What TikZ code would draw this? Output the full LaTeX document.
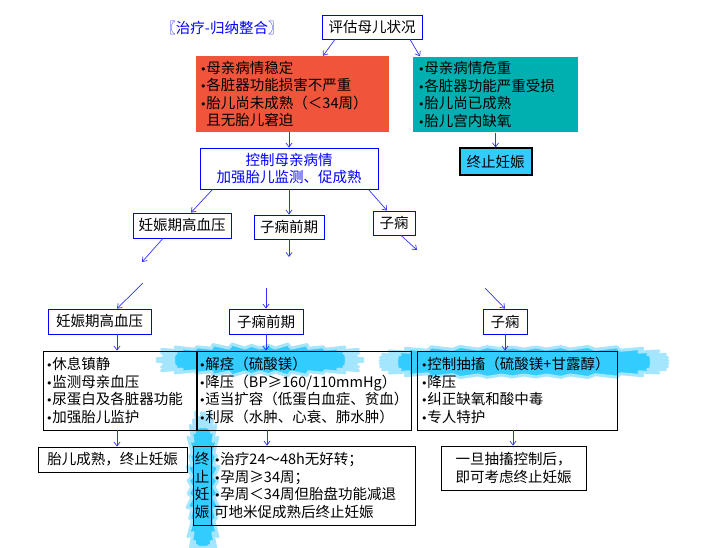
\documentclass[tikz,border=0pt]{standalone}
\usepackage{fontspec}
\setmainfont{Noto Sans CJK SC}
\newfontfamily\marcafont{DejaVu Sans}
\newcommand{\marca}{{\marcafont\fontsize{11pt}{17.5pt}\selectfont •}}
\usepackage{tikz}
\usetikzlibrary{positioning,arrows.meta}

\definecolor{caixaverm}{RGB}{240,85,60}
\definecolor{caixaverde}{RGB}{0,176,176}
\definecolor{azulclaro}{RGB}{51,204,255}
\definecolor{azulbrilho}{RGB}{165,230,255}
\definecolor{azulseta}{RGB}{51,51,255}

\begin{document}
\begin{tikzpicture}[x=1pt,y=-1pt,
    declare function={raio(\x)=pow(cos(\x)*cos(\x)*cos(\x)*cos(\x)+sin(\x)*sin(\x)*sin(\x)*sin(\x),-0.25);
                      pico(\x,\k)=mod(round(\x/5),2)*(0.45+0.55*abs(sin(\k*\x)));},
    txt/.style={font=\fontsize{14.5pt}{17.5pt}\selectfont},
    caixa/.style={txt,draw=blue,line width=0.8pt,inner sep=0pt,align=center},
    lista/.style={txt,draw=black,line width=0.8pt,align=left,minimum height=79pt},
    seta/.style={draw=azulseta,line width=0.7pt,-{Straight Barb[length=4pt,width=6pt]}},
    explosao/.style={fill=azulclaro,draw=azulbrilho,line width=3pt,line join=round}]
    \useasboundingbox (0,0) rectangle (704,548);

    % Brilhos
    \filldraw[explosao] plot[variable=\t, samples=73, domain=0:360]
        ({260+(86+18*pico(\t,13))*raio(\t)*cos(\t)}, {360+(12+4*pico(\t,13))*raio(\t)*sin(\t)}) -- cycle;
    \filldraw[explosao] plot[variable=\t, samples=73, domain=0:360]
        ({524+(127+17*pico(\t,17))*raio(\t)*cos(\t)}, {362+(13+4*pico(\t,17))*raio(\t)*sin(\t)}) -- cycle;
    \filldraw[explosao] plot[variable=\t, samples=73, domain=0:360]
        ({203+(11+5*pico(\t,29))*raio(\t)*cos(\t)}, {487+(60+16*pico(\t,29))*raio(\t)*sin(\t)}) -- cycle;

    % Topo
    \node[font=\fontsize{14.5pt}{16pt}\selectfont, text=blue] (titulo) at (222,28) {〖治疗-归纳整合〗};
    \node[caixa, minimum width=100pt, minimum height=24pt] (avaliar) at (372,27) {评估母儿状况};
    \node[txt, fill=caixaverm, text width=185pt, inner sep=4pt, minimum height=76pt, align=left] (estavel) at (292.5,94) {\marca 母亲病情稳定\\\marca 各脏器功能损害不严重\\\marca 胎儿尚未成熟（＜34周）\\\phantom{\marca}且无胎儿窘迫};
    \node[txt, fill=caixaverde, text width=155pt, inner sep=5pt, minimum height=75pt, align=left] (critico) at (495.5,94.5) {\marca 母亲病情危重\\\marca 各脏器功能严重受损\\\marca 胎儿尚已成熟\\\marca 胎儿宫内缺氧};
    \node[txt, draw=black, line width=2pt, fill=azulclaro, minimum width=72pt, minimum height=27pt, inner sep=0pt] (termina) at (495.5,162) {终止妊娠};
    \node[caixa, text=blue, minimum width=178pt, minimum height=41pt, font=\fontsize{14.5pt}{16.5pt}\selectfont] (controle) at (289,168.5) {控制母亲病情\\加强胎儿监测、促成熟};

    % Tipos
    \node[caixa, minimum width=98pt, minimum height=25pt] (hipert) at (182,225.5) {妊娠期高血压};
    \node[caixa, minimum width=70pt, minimum height=24pt] (preecl) at (289,227) {子痫前期};
    \node[caixa, minimum width=42pt, minimum height=24pt] (eclam) at (394,223) {子痫};
    \node[caixa, minimum width=103pt, minimum height=25pt] (hipert2) at (99.5,321.5) {妊娠期高血压};
    \node[caixa, minimum width=74pt, minimum height=25pt] (preecl2) at (266,321.5) {子痫前期};
    \node[caixa, minimum width=44pt, minimum height=25pt] (eclam2) at (505,321.5) {子痫};

    % Tratamento
    \node[lista, text width=147pt, inner sep=3pt] (caixaA) at (119.5,390.5) {\marca 休息镇静\\\marca 监测母亲血压\\\marca 尿蛋白及各脏器功能\\\marca 加强胎儿监护};
    \node[lista, text width=210pt, inner sep=2pt] (caixaB) at (304,390.5) {\marca 解痉（硫酸镁）\\\marca 降压（BP≥160/110mmHg）\\\marca 适当扩容（低蛋白血症、贫血）\\\marca 利尿（水肿、心衰、肺水肿）};
    \node[lista, text width=192pt, inner sep=4pt] (caixaC) at (517,390.5) {\marca 控制抽搐（硫酸镁+甘露醇）\\\marca 降压\\\marca 纠正缺氧和酸中毒\\\marca 专人特护};

    % Fim
    \node[txt, draw=black, line width=0.8pt, minimum width=149pt, minimum height=25pt, inner sep=0pt] (maduro) at (112.5,459.5) {胎儿成熟，终止妊娠};
    \node[txt, draw=black, line width=0.8pt, fill=azulclaro, minimum width=18pt, minimum height=79pt, inner sep=0pt, align=center] (termina2) at (202,485.5) {终\\止\\妊\\娠};
    \node[lista, text width=198pt, inner sep=3pt] (caixaD) at (313,485.5) {\marca 治疗24～48h无好转；\\\marca 孕周≥34周；\\\marca 孕周＜34周但胎盘功能减退\\可地米促成熟后终止妊娠};
    \node[txt, draw=black, line width=0.8pt, minimum width=145pt, minimum height=44pt, inner sep=0pt, align=center, font=\fontsize{14.5pt}{18pt}\selectfont] (depois) at (513.5,468) {一旦抽搐控制后，\\即可考虑终止妊娠};

    % Setas
    \coordinate (hipertFim) at (142,262);
    \coordinate (hipertIni) at (143,283);
    \coordinate (preeclFim) at (289,257);
    \coordinate (preeclIni) at (266,288);
    \coordinate (eclamFim) at (417,250);
    \coordinate (eclamIni) at (485,288);
    \draw[seta] ([xshift=-37pt]avaliar.south) -- ([xshift=30.5pt]estavel.north);
    \draw[seta] ([xshift=38pt]avaliar.south) -- ([xshift=-75.5pt]critico.north);
    \draw[seta] (controle.north |- estavel.south) -- (controle.north);
    \draw[seta] (critico.south) -- (termina.north);
    \draw[seta] ([xshift=13pt]controle.south west) -- ([xshift=9pt]hipert.north);
    \draw[seta] (preecl.north |- controle.south) -- (preecl.north);
    \draw[seta] ([xshift=-10pt]controle.south east) -- ([xshift=-7pt]eclam.north);
    \draw[seta] ([xshift=-19pt]hipert.south) -- (hipertFim);
    \draw[seta] (hipertIni) -- ([xshift=17.5pt]hipert2.north);
    \draw[seta] (preecl.south) -- (preeclFim);
    \draw[seta] (preeclIni) -- (preecl2.north);
    \draw[seta] ([xshift=7pt]eclam.south) -- (eclamFim);
    \draw[seta] (eclamIni) -- (eclam2.north);
    \draw[seta] ([xshift=17.5pt]hipert2.south) -- ([xshift=-2.5pt]caixaA.north);
    \draw[seta] (preecl2.south) -- ([xshift=-38pt]caixaB.north);
    \draw[seta] (eclam2.south) -- ([xshift=-12pt]caixaC.north);
    \draw[seta] ([xshift=-2.5pt]caixaA.south) -- ([xshift=4.5pt]maduro.north);
    \draw[seta] ([xshift=-37pt]caixaB.south) -- ([xshift=-46pt]caixaD.north);
    \draw[seta] ([xshift=-4pt]caixaC.south) -- ([xshift=-0.5pt]depois.north);
\end{tikzpicture}
\end{document}
